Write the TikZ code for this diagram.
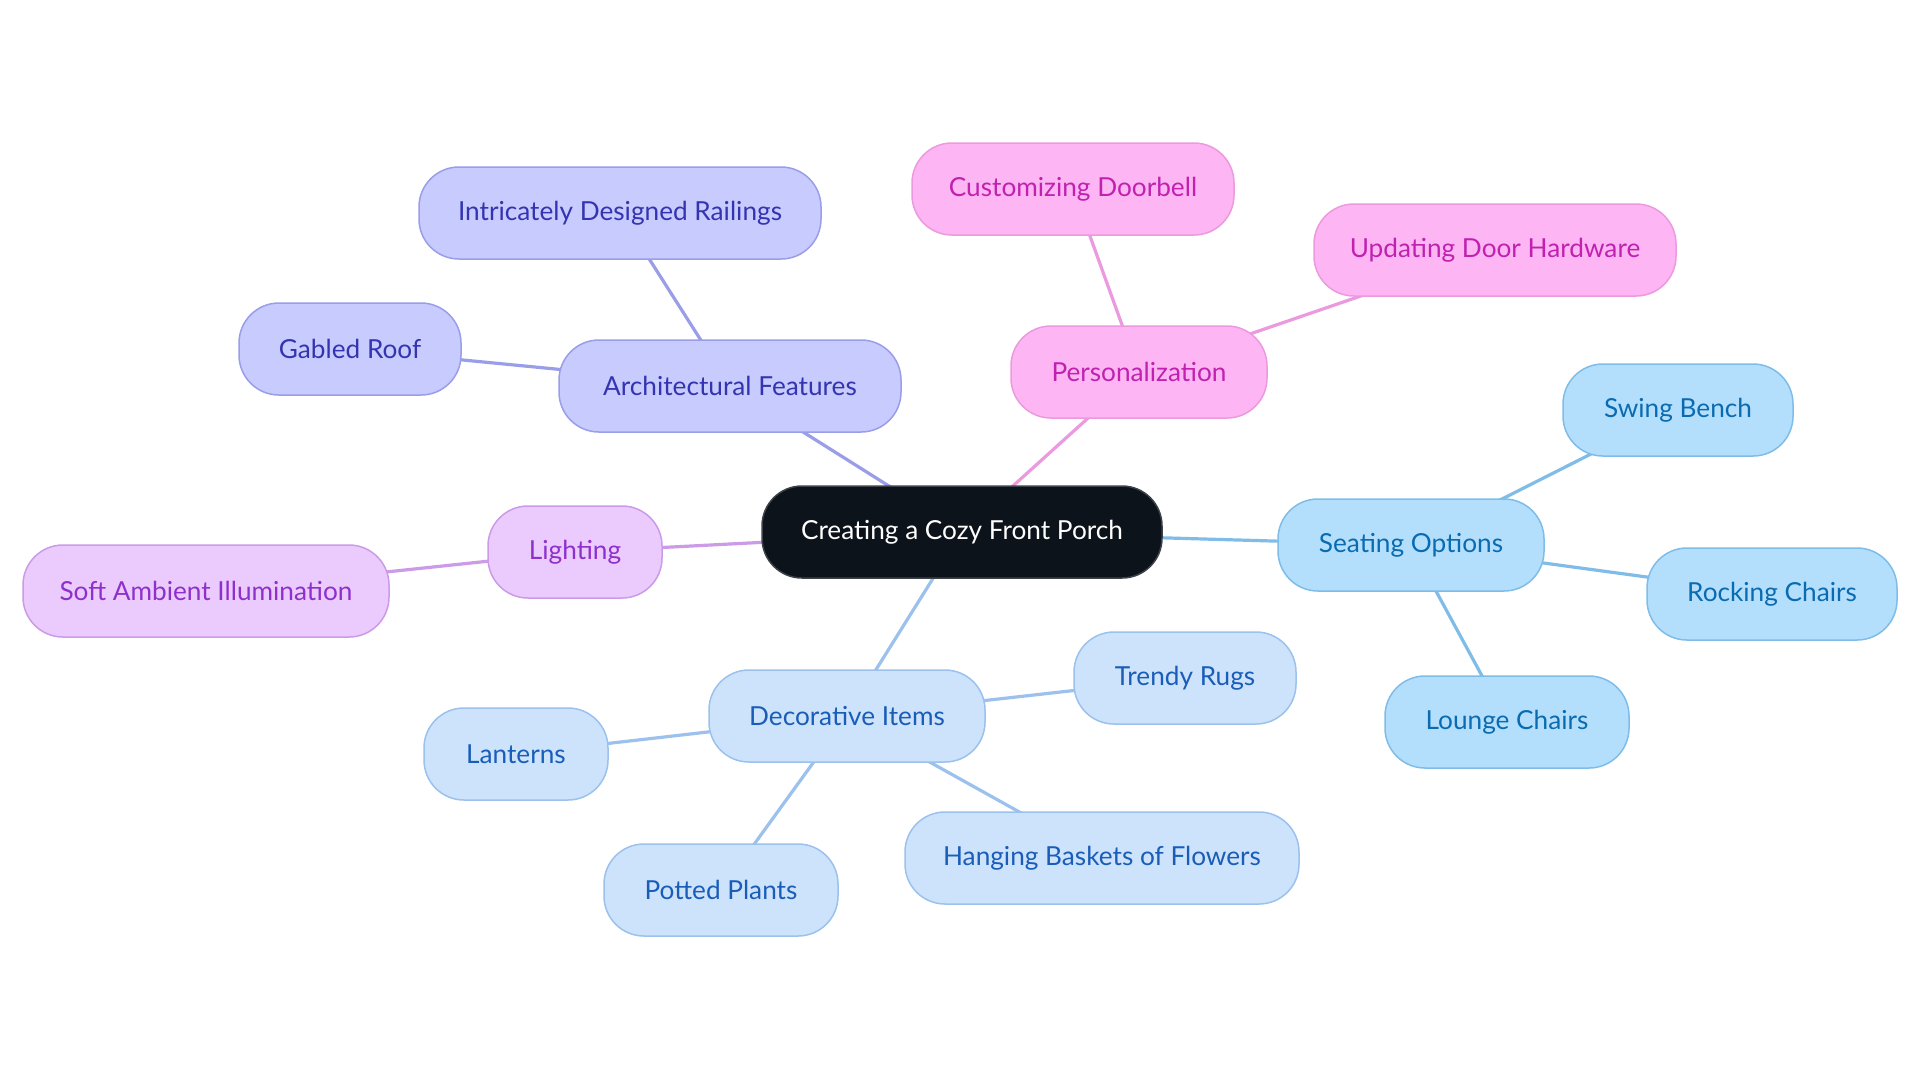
\documentclass[tikz,border=0pt]{standalone}
\usepackage{fontspec}
\setmainfont{Lato}
\usetikzlibrary{backgrounds}
\definecolor{centerfill}{HTML}{0D131A}
\definecolor{archfill}{HTML}{C8CBFD}
\definecolor{archline}{HTML}{9A9DE8}
\definecolor{archtext}{HTML}{3434B0}
\definecolor{persfill}{HTML}{FDB5F3}
\definecolor{persline}{HTML}{EC9ADF}
\definecolor{perstext}{HTML}{C021B0}
\definecolor{lightfill}{HTML}{EBCBFD}
\definecolor{lightline}{HTML}{CC9BE8}
\definecolor{lighttext}{HTML}{8E30CB}
\definecolor{seatfill}{HTML}{B3DFFD}
\definecolor{seatline}{HTML}{7FBDE8}
\definecolor{seattext}{HTML}{0A6BB0}
\definecolor{decofill}{HTML}{CDE3FC}
\definecolor{decoline}{HTML}{9BC1EC}
\definecolor{decotext}{HTML}{1A5DB8}
\tikzset{
  basebox/.style={rounded corners=20pt, draw, line width=0.75pt, minimum height=46pt,
    font=\fontsize{13.1}{15}\selectfont, inner sep=0pt, align=center},
  centerbox/.style={basebox, fill=centerfill, draw=centerfill!80!white, text=white},
  archbox/.style={basebox, fill=archfill, draw=archline, text=archtext},
  persbox/.style={basebox, fill=persfill, draw=persline, text=perstext},
  lightbox/.style={basebox, fill=lightfill, draw=lightline, text=lighttext},
  seatbox/.style={basebox, fill=seatfill, draw=seatline, text=seattext},
  decobox/.style={basebox, fill=decofill, draw=decoline, text=decotext},
  edge/.style={line width=1.6pt},
}
\begin{document}
\begin{tikzpicture}[x=0.5pt,y=-0.5pt]
\useasboundingbox (0,0) rectangle (1920,1083);
% nodes
\node[centerbox, minimum width=200pt] (center) at (962,532) {Creating a Cozy Front Porch};
\node[archbox, minimum width=171pt] (arch) at (730,386) {Architectural Features};
\node[archbox, minimum width=201pt] (rail) at (620,213) {Intricately Designed Railings};
\node[archbox, minimum width=111pt] (roof) at (350,349) {Gabled Roof};
\node[persbox, minimum width=128pt] (pers) at (1139,372) {Personalization};
\node[persbox, minimum width=161pt] (bell) at (1073,189) {Customizing Doorbell};
\node[persbox, minimum width=181pt] (hard) at (1495,250) {Updating Door Hardware};
\node[lightbox, minimum width=87pt] (light) at (575,552) {Lighting};
\node[lightbox, minimum width=183pt] (soft) at (206,591) {Soft Ambient Illumination};
\node[seatbox, minimum width=133pt] (seat) at (1411,545) {Seating Options};
\node[seatbox, minimum width=115pt] (swing) at (1678,410) {Swing Bench};
\node[seatbox, minimum width=125pt] (rock) at (1772,594) {Rocking Chairs};
\node[seatbox, minimum width=122pt] (lounge) at (1507,722) {Lounge Chairs};
\node[decobox, minimum width=138pt] (deco) at (847,716) {Decorative Items};
\node[decobox, minimum width=111pt] (rugs) at (1185,678) {Trendy Rugs};
\node[decobox, minimum width=92pt] (lant) at (516,754) {Lanterns};
\node[decobox, minimum width=117pt] (pot) at (721,890) {Potted Plants};
\node[decobox, minimum width=197pt] (hang) at (1102,858) {Hanging Baskets of Flowers};
% connectors
\begin{scope}[on background layer]
\fill[white] (0,0) rectangle (1920,1083);
\draw[edge, archline] (center.center) -- (arch.center);
\draw[edge, archline] (arch.center) -- (rail.center);
\draw[edge, archline] (arch.center) -- (roof.center);
\draw[edge, persline] (center.center) -- (pers.center);
\draw[edge, persline] (pers.center) -- (bell.center);
\draw[edge, persline] (pers.center) -- (hard.center);
\draw[edge, lightline] (center.center) -- (light.center);
\draw[edge, lightline] (light.center) -- (soft.center);
\draw[edge, seatline] (center.center) -- (seat.center);
\draw[edge, seatline] (seat.center) -- (swing.center);
\draw[edge, seatline] (seat.center) -- (rock.center);
\draw[edge, seatline] (seat.center) -- (lounge.center);
\draw[edge, decoline] (center.center) -- (deco.center);
\draw[edge, decoline] (deco.center) -- (rugs.center);
\draw[edge, decoline] (deco.center) -- (lant.center);
\draw[edge, decoline] (deco.center) -- (pot.center);
\draw[edge, decoline] (deco.center) -- (hang.center);
\end{scope}
\end{tikzpicture}
\end{document}
